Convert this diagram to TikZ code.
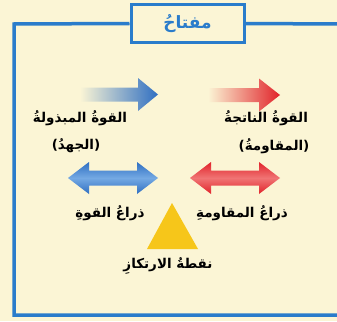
\documentclass[tikz,border=0pt]{standalone}
\usepackage{fontspec}
\newfontfamily\arabicfont[Script=Arabic]{DejaVu Sans}
\TeXXeTstate=1
\definecolor{bg}{HTML}{FBF5D5}
\definecolor{frameblue}{HTML}{2A7CCB}
\definecolor{arrblue}{HTML}{2F6FC2}
\definecolor{arrbluelt}{HTML}{74A9E3}
\definecolor{arrred}{HTML}{E1232A}
\definecolor{arrredlt}{HTML}{F07474}
\definecolor{tri}{HTML}{F6C61A}
\newcommand{\artxt}[1]{{\arabicfont\bfseries\beginR #1\endR}}
\begin{document}
\begin{tikzpicture}[x=1pt,y=-1pt,
  frameline/.style={draw=frameblue, line width=3.5pt},
  lbl/.style={font=\fontsize{13.5}{15}\selectfont, text=black, inner sep=0pt},
  keybox/.style={draw=frameblue, line width=3pt, fill=bg, minimum width=113, minimum height=38, inner sep=0pt, font=\fontsize{17}{19}\selectfont, text=frameblue},
  bluefade/.style={left color=bg, right color=arrblue},
  redfade/.style={left color=bg, right color=arrred},
  bluedbl/.style={top color=arrblue, bottom color=arrblue, middle color=arrbluelt},
  reddbl/.style={top color=arrred, bottom color=arrred, middle color=arrredlt}]
\fill[bg] (0,0) rectangle (337,321);
\useasboundingbox (0,0) rectangle (337,321);
% frame
\coordinate (tl) at (14,24);
\coordinate (tr) at (340,24);
\coordinate (bl) at (14,315);
\coordinate (br) at (340,315);
\node[keybox] (key) at (187.5,23.5) {\artxt{مفتاحُ}};
\draw[frameline] (key.west) -- (tl) -- (bl) -- (br);
\draw[frameline] (key.east) -- (tr);
% top arrows
\shade[bluefade] (80,87.5) -- (138,87.5) -- (138,78) -- (158,94.5) -- (138,111) -- (138,101.5) -- (80,101.5) -- cycle;
\shade[redfade] (208,88) -- (259,88) -- (259,78.5) -- (280,95) -- (259,111.5) -- (259,102) -- (208,102) -- cycle;
% double arrows
\shade[bluedbl] (68,178) -- (89,162) -- (89,170.5) -- (137,170.5) -- (137,162) -- (158,178) -- (137,194) -- (137,185.5) -- (89,185.5) -- (89,194) -- cycle;
\shade[reddbl] (190,178) -- (211,162) -- (211,170.5) -- (259,170.5) -- (259,162) -- (280,178) -- (259,194) -- (259,185.5) -- (211,185.5) -- (211,194) -- cycle;
% fulcrum
\fill[tri] (172,203) -- (147,249) -- (198,249) -- cycle;
% labels
\node[lbl] (effort) at (80,118) {\artxt{القوةُ المبذولةُ}};
\node[lbl] (effort2) at (76,146) {\artxt{(الجهدُ)}};
\node[lbl] (load) at (266,118) {\artxt{القوةُ الناتجةُ}};
\node[lbl] (load2) at (274,146) {\artxt{(المقاومةُ)}};
\node[lbl] (loadarm) at (242,213) {\artxt{ذراعُ المقاومةِ}};
\node[lbl] (effortarm) at (110,213) {\artxt{ذراعُ القوةِ}};
\node[lbl] (fulcrum) at (168,266) {\artxt{نقطةُ الارتكازِ}};
\end{tikzpicture}
\end{document}
